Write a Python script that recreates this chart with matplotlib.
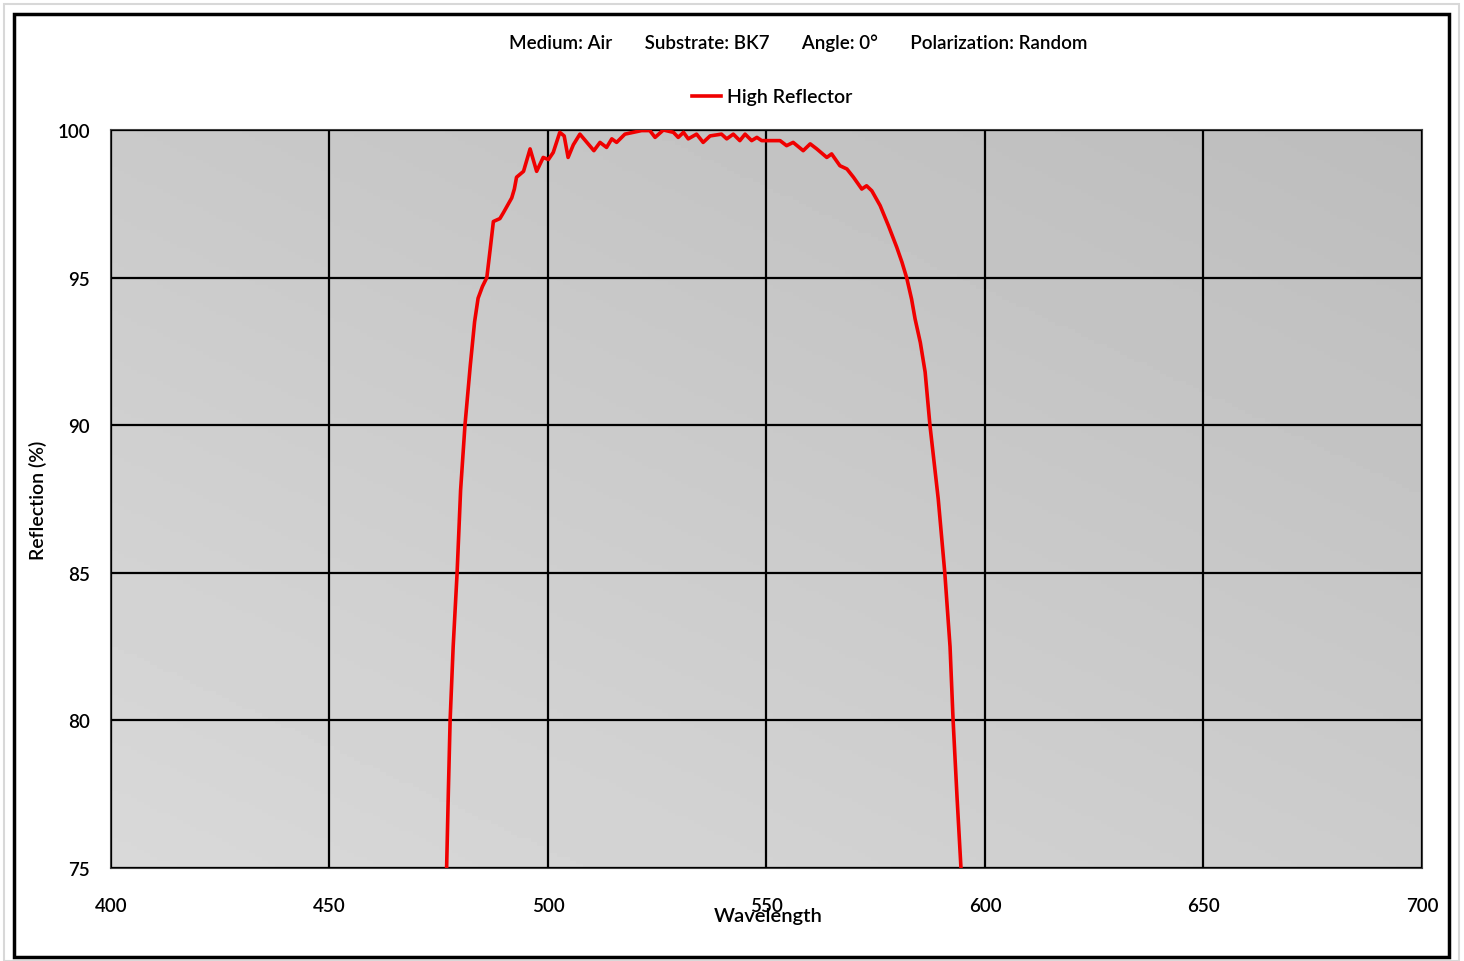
import numpy as np
import matplotlib
matplotlib.use("Agg")
import matplotlib.pyplot as plt
from matplotlib.patches import Rectangle

# Reflection curve
wavelength = [
    476.8, 477.2, 477.6, 478.3, 479.2, 480.0, 481.0, 482.2, 483.2, 484.0,
    485.0, 486.0, 486.8, 487.5, 489.0, 489.8, 491.7, 492.3, 492.8, 494.4,
    495.9, 497.4, 498.9, 500.1, 501.2, 502.7, 503.7, 504.6, 505.8, 507.3,
    508.9, 510.5, 511.9, 513.4, 514.6, 515.7, 517.6, 519.5, 521.4, 523.3,
    524.5, 526.4, 528.7, 529.8, 531.0, 532.1, 534.0, 535.5, 537.1, 539.7,
    540.9, 542.4, 543.9, 545.1, 546.6, 547.8, 548.9, 551.2, 553.1, 554.6,
    556.1, 558.4, 560.0, 561.5, 563.8, 564.9, 566.8, 568.4, 569.9, 571.8,
    572.9, 574.1, 576.0, 577.9, 579.8, 581.0, 582.1, 583.2, 584.0, 585.2,
    586.3, 587.4, 589.3, 590.8, 592.0, 592.7, 593.6, 594.5,
]
reflection = [
    75.0, 77.6, 80.0, 82.5, 85.0, 87.8, 90.0, 92.0, 93.5, 94.3,
    94.7, 95.0, 96.0, 96.9, 97.0, 97.2, 97.7, 98.0, 98.4, 98.6,
    99.36, 98.6, 99.07, 99.0, 99.24, 99.92, 99.8, 99.07, 99.5, 99.86,
    99.58, 99.3, 99.58, 99.41, 99.7, 99.58, 99.86, 99.92, 99.98, 99.98,
    99.75, 100.0, 99.92, 99.75, 99.92, 99.7, 99.86, 99.58, 99.8, 99.86,
    99.7, 99.86, 99.64, 99.86, 99.64, 99.75, 99.64, 99.64, 99.64, 99.47,
    99.58, 99.3, 99.53, 99.36, 99.07, 99.19, 98.79, 98.68, 98.4, 98.0,
    98.11, 97.94, 97.44, 96.76, 96.03, 95.52, 94.98, 94.27, 93.6, 92.8,
    91.8, 90.0, 87.5, 85.0, 82.5, 80.0, 77.4, 75.0,
]
x_ticks = [400, 450, 500, 550, 600, 650, 700]
y_ticks = [75, 80, 85, 90, 95, 100]
header = "Medium: Air       Substrate: BK7       Angle: 0°       Polarization: Random"

plt.rcParams['font.family'] = ['Lato', 'DejaVu Sans']

W, H = 1464, 962
fig = plt.figure(figsize=(W / 100, H / 100), dpi=100)

# outer frames
fig.patches.append(Rectangle((4 / W, 0), 1455 / W, 957 / H, transform=fig.transFigure,
                             fill=False, edgecolor='#d8d8d8', linewidth=1.5))
fig.patches.append(Rectangle((14 / W, 4 / H), 1435 / W, 943 / H, transform=fig.transFigure,
                             fill=False, edgecolor='black', linewidth=2.5))

ax = fig.add_axes([111 / W, 1 - 869 / H, (1422 - 111) / W, (869 - 131) / H])

# gradient background
gx, gy = np.meshgrid(np.linspace(0, 1, 200), np.linspace(0, 1, 200))
shade = 0.85 - 0.06 * gy - 0.05 * gx
ax.imshow(shade, extent=[0, 1, 0, 1], transform=ax.transAxes, cmap='gray',
          vmin=0, vmax=1, aspect='auto', origin='lower', zorder=0)

ax.plot(wavelength, reflection, color='#f00000', linewidth=2.6, label='High Reflector',
        zorder=3, clip_on=True)

ax.set_xlim(400, 700)
ax.set_ylim(75, 100)
ax.set_xticks(x_ticks)
ax.set_yticks(y_ticks)
ax.grid(True, color='black', linewidth=1.6, zorder=1)
ax.set_axisbelow(False)
for s in ax.spines.values():
    s.set_color('#404040')
    s.set_linewidth(1.5)
ax.tick_params(length=0, labelsize=13.5)
ax.tick_params(axis='x', pad=21)
ax.tick_params(axis='y', pad=15)
for lbl in ax.get_xticklabels() + ax.get_yticklabels():
    lbl.set_fontweight('semibold')

fig.text(38 / W, 1 - 500 / H, "Reflection (%)", rotation=90, ha='center', va='center',
         fontsize=14, fontweight='semibold')
fig.text(768 / W, 1 - 917 / H, "Wavelength", ha='center', va='center',
         fontsize=14.5, fontweight='semibold')
fig.text(798 / W, 1 - 43 / H, header, ha='center', va='center',
         fontsize=13.5, fontweight='semibold')

fig.legend(loc='center', bbox_to_anchor=(772 / W, 1 - 98 / H), frameon=False,
           handlelength=1.5, handletextpad=0.3,
           prop={'weight': 'semibold', 'size': 14})

fig.savefig('out.png', dpi=100)
